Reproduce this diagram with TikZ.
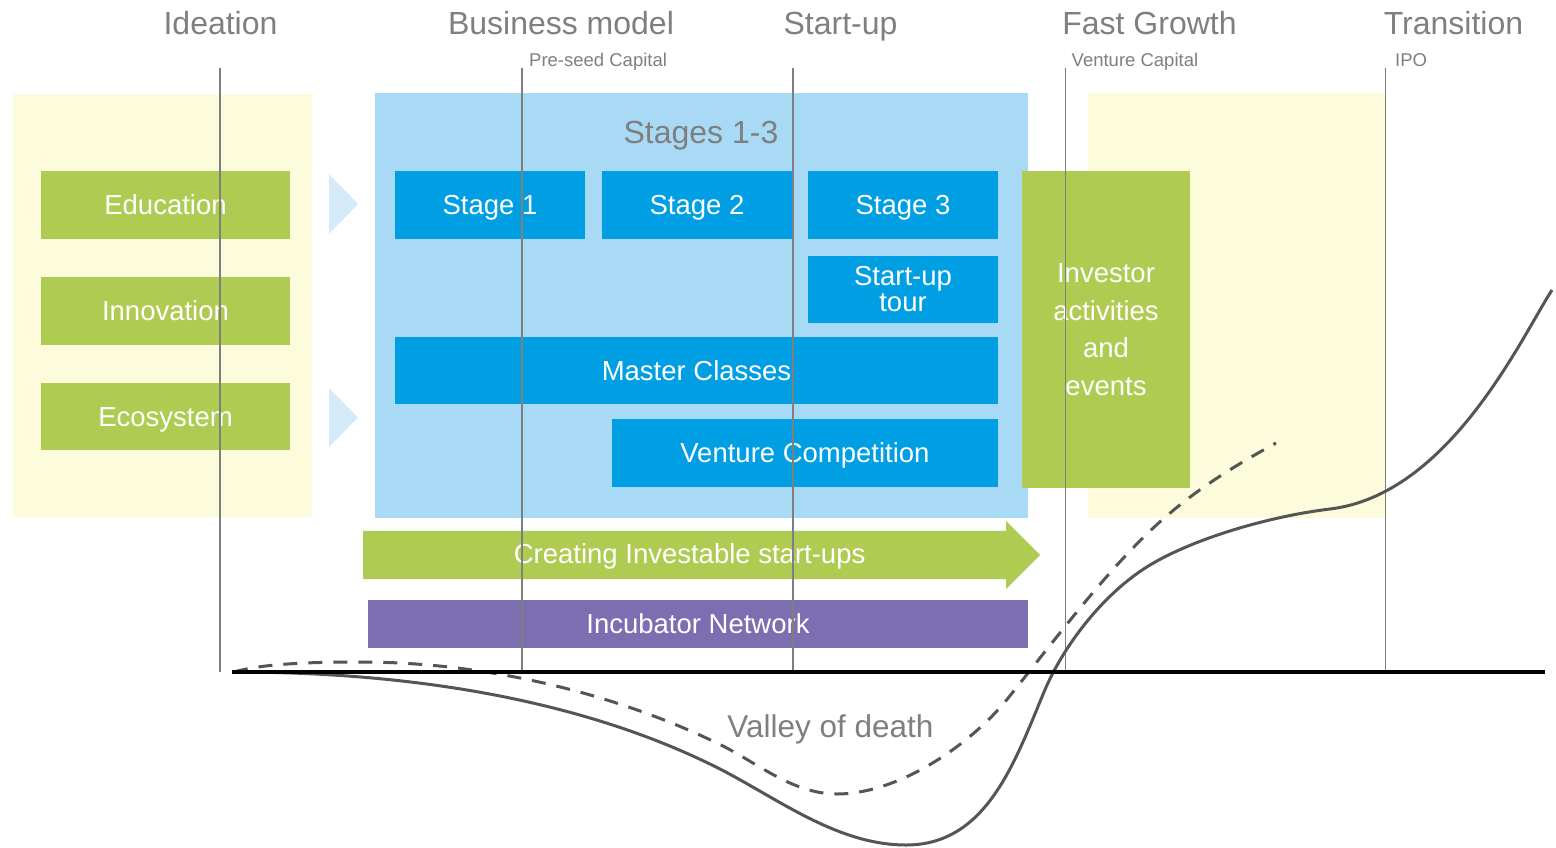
\documentclass[tikz,border=0pt]{standalone}
\usepackage{fontspec}
\setmainfont{Liberation Sans}
\usetikzlibrary{shapes,arrows}
\definecolor{paleyellow}{RGB}{252,252,220}
\definecolor{paleblue}{RGB}{168,218,245}
\definecolor{stageblue}{RGB}{0,159,227}
\definecolor{leafgreen}{RGB}{176,203,82}
\definecolor{incpurple}{RGB}{125,109,177}
\definecolor{textgray}{RGB}{127,127,127}
\definecolor{curvegray}{RGB}{85,85,85}
\definecolor{tipblue}{RGB}{213,234,249}
\tikzset{%
	block/.style     = {rectangle, inner sep=0pt, text=white,
		font=\fontsize{27.5}{33}\selectfont, text height=19.7pt, text depth=0pt},
	stagebox/.style  = {block, fill=stageblue}, % Programme stages
	greenbox/.style  = {block, fill=leafgreen}, % Ideation topics
	backdrop/.style  = {rectangle, inner sep=0pt}, % Phase areas
	phase/.style     = {text=textgray, font=\fontsize{32}{38}\selectfont,
		anchor=base, inner sep=0pt},
	capital/.style   = {text=textgray, font=\fontsize{18.5}{22}\selectfont,
		anchor=base west, inner sep=0pt},
	milestone/.style = {draw=textgray, line width=1.5pt}, % Phase borders
	curve/.style     = {draw=curvegray, line width=3pt}
}

\begin{document}
\begin{tikzpicture}[x=1pt,y=-1pt]
	\useasboundingbox (0,0) rectangle (1556,847);

	% phase areas
	\node[backdrop, fill=paleyellow, minimum width=299pt, minimum height=423pt] (ideaarea) at (162.5,305.5) {};
	\node[backdrop, fill=paleblue, minimum width=653pt, minimum height=425pt] (stagearea) at (701.5,305.5) {};
	\node[backdrop, fill=paleyellow, minimum width=298pt, minimum height=424.5pt] (growtharea) at (1236.5,305.25) {};
	\fill[tipblue] (329,174) -- (358,204) -- (329,234) -- cycle;
	\fill[tipblue] (329,388) -- (358,417.5) -- (329,447) -- cycle;

	% phases
	\node[phase] (ideation) at (220.5,34.3) {Ideation};
	\node[phase] (business) at (561,34.3) {Business model};
	\node[phase] (startup) at (840.5,34.3) {Start-up};
	\node[phase] (growth) at (1149.5,34.3) {Fast Growth};
	\node[phase] (transition) at (1453.5,34.3) {Transition};
	\node[capital] (preseed) at (529,66.7) {Pre-seed Capital};
	\node[capital] (venturecap) at (1071.5,66.7) {Venture Capital};
	\node[capital] (ipo) at (1395,66.7) {IPO};
	\node[phase] (stages) at (701,143) {Stages 1-3};

	% boxes
	\node[greenbox, minimum width=249pt, minimum height=68pt] (education) at (165.5,205) {Education};
	\node[greenbox, minimum width=249pt, minimum height=68pt] (innovation) at (165.5,311) {Innovation};
	\node[greenbox, minimum width=249pt, minimum height=67pt] (ecosystem) at (165.5,416.5) {Ecosystem};
	\node[stagebox, minimum width=190pt, minimum height=68pt] (stage1) at (490,205) {Stage 1};
	\node[stagebox, minimum width=190pt, minimum height=68pt] (stage2) at (697,205) {Stage 2};
	\node[stagebox, minimum width=190pt, minimum height=68pt] (stage3) at (903,205) {Stage 3};
	\node[stagebox, minimum width=190pt, minimum height=67pt, align=center,
		text height=, text depth=, font=\fontsize{27.5}{26}\selectfont] (tour) at (903,289.5) {Start-up\\tour};
	\node[stagebox, minimum width=603pt, minimum height=67pt] (master) at (696.5,370.5) {Master Classes};
	\node[stagebox, minimum width=386pt, minimum height=68pt] (venture) at (805,453) {Venture Competition};
	\node[greenbox, minimum width=168pt, minimum height=317pt, align=center,
		text height=, text depth=, font=\fontsize{27.5}{37.5}\selectfont] (investor) at (1106,329.5) {Investor\\activities\\and\\events};
	\node[single arrow, fill=leafgreen, text=white, font=\fontsize{27.5}{33}\selectfont,
		minimum height=677pt, single arrow head extend=10pt, text height=21pt, text depth=5pt,
		inner ysep=11pt, inner xsep=0pt, anchor=tail] (creating) at (363,555) {Creating Investable start-ups};
	\node[block, fill=incpurple, minimum width=660pt, minimum height=48pt] (incubator) at (698,624) {Incubator Network};

	% phase borders
	\foreach \x in {220,522,793,1065.5,1385.5}
		\draw[milestone] (\x,68) -- (\x,672);

	% growth curves
	\draw[curve, dash pattern=on 14pt off 11pt] (234,672) .. controls (264,663) and (320,662) .. (360,662)
		.. controls (480,662) and (607,690.2) .. (717,743)
		.. controls (757,762.2) and (792,794) .. (837,794)
		.. controls (897,794) and (969,747) .. (1009,697)
		.. controls (1056,638.25) and (1103,575.65) .. (1150,531)
		.. controls (1190,493) and (1231,467.75) .. (1276,443);
	\draw[curve] (234,672) .. controls (434,672) and (596,707) .. (716,767)
		.. controls (776,797) and (836,845) .. (906,845)
		.. controls (986,845) and (1014,764) .. (1044,692)
		.. controls (1064,644) and (1105,592) .. (1150,565)
		.. controls (1195,538) and (1270,516.2) .. (1330,509)
		.. controls (1450,494.6) and (1522,336) .. (1552,290);
	\draw[line width=4pt] (232,672) -- (1545,672);
	\node[text=textgray, font=\fontsize{31.5}{38}\selectfont, anchor=base, inner sep=0pt] (valley) at (830.5,737) {Valley of death};
\end{tikzpicture}
\end{document}
